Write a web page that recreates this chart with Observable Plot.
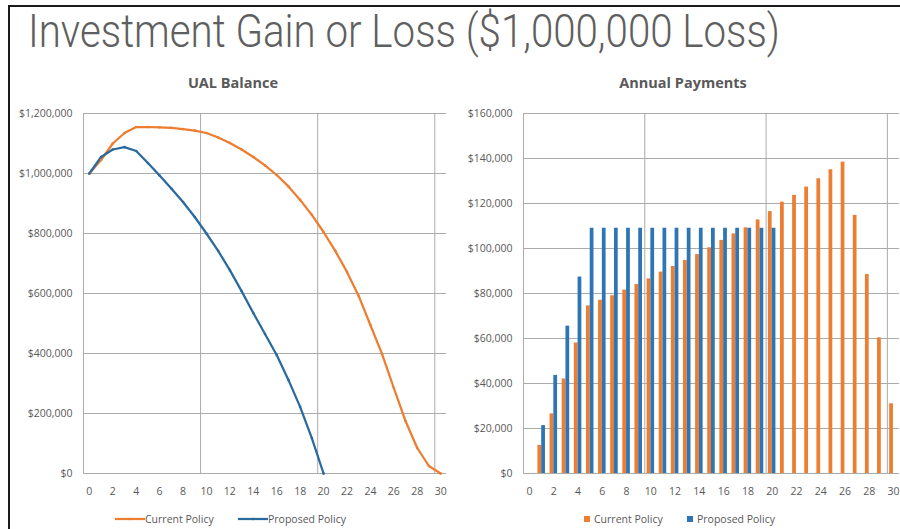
<!DOCTYPE html>
<html>
<head>
<meta charset="utf-8">
<script src="https://cdn.jsdelivr.net/npm/d3@7"></script>
<script src="https://cdn.jsdelivr.net/npm/@observablehq/plot@0.6"></script>
<style>
  body { margin: 0; background: #fff; }
  #page { position: relative; width: 900px; height: 529px; overflow: hidden; background: #fff; font-family: "Open Sans", Lato, sans-serif; }
  #frameTop { position: absolute; left: 8px; top: 5px; width: 892px; height: 2px; background: #1a1a1a; }
  #frameLeft { position: absolute; left: 8px; top: 5px; width: 2px; height: 524px; background: #1a1a1a; }
  #title { position: absolute; left: 28px; top: 8px; font-family: Roboto, "Liberation Sans Narrow", sans-serif; font-weight: 300; font-size: 46px; line-height: 1; color: #5f5f5f; white-space: nowrap; transform-origin: 0 0; }
  .sub { position: absolute; top: 75px; width: 300px; text-align: center; font-weight: bold; font-size: 14.5px; line-height: 16px; color: #595959; }
  .chart { position: absolute; top: 100px; width: 450px; height: 400px; }
  .legend { position: absolute; top: 512px; height: 14px; font-size: 10.5px; line-height: 14px; color: #595959; white-space: nowrap; }
  .legend .item { position: absolute; top: 0; display: flex; align-items: center; }
  .legend svg { display: block; }
</style>
</head>
<body>
<div id="page">
  <div id="frameTop"></div>
  <div id="frameLeft"></div>
  <div id="title">Investment Gain or Loss ($1,000,000 Loss)</div>
  <div class="sub" style="left:83px;">UAL Balance</div>
  <div class="sub" style="left:533px;">Annual Payments</div>
  <div class="chart" id="left" style="left:0px;"></div>
  <div class="chart" id="right" style="left:450px;"></div>
  <div class="legend" id="legLeft"></div>
  <div class="legend" id="legRight"></div>
</div>
<script>
// ---- Data ----
const seriesNames = ["Current Policy", "Proposed Policy"];
const balanceYearsCurrent = d3.range(0, 31);
const balanceCurrent = [1000000, 1045000, 1100000, 1135000, 1155000, 1155000, 1154000, 1152000, 1148000, 1143000,
  1135000, 1120000, 1102000, 1080000, 1055000, 1027000, 995000, 957000, 912000, 862000,
  805000, 742000, 672000, 592000, 495000, 398000, 285000, 175000, 85000, 25000, 0];
const balanceYearsProposed = d3.range(0, 21);
const balanceProposed = [1000000, 1055000, 1080000, 1088000, 1075000, 1035000, 993000, 950000, 905000, 855000,
  800000, 742000, 678000, 608000, 535000, 465000, 395000, 312000, 222000, 118000, 0];

const paymentYearsCurrent = d3.range(1, 31);
const paymentCurrent = [12500, 26500, 42000, 58000, 74500, 77000, 79000, 81500, 84000, 86500,
  89500, 92000, 94700, 97300, 100300, 103600, 106500, 109200, 112700, 116400,
  120600, 123600, 127300, 131000, 135000, 138400, 114700, 88400, 60300, 31000];
const paymentYearsProposed = d3.range(1, 21);
const paymentProposed = [21300, 43600, 65500, 87300, 109000, 109000, 109000, 109000, 109000, 109000,
  109000, 109000, 109000, 109000, 109000, 109000, 109000, 109000, 109000, 109000];

const xTickLabels = [0, 2, 4, 6, 8, 10, 12, 14, 16, 18, 20, 22, 24, 26, 28, 30];
const yTicksBalance = [0, 200000, 400000, 600000, 800000, 1000000, 1200000];
const yTicksPayment = [0, 20000, 40000, 60000, 80000, 100000, 120000, 140000, 160000];
const xGridLines = [-0.5, 9.5, 19.5, 29.5];

const orange = "#ED7D31";
const blueLine = "#2A6A9E";
const blueBar = "#2E75B6";
const gridColor = "#ababab";
const textColor = "#595959";

// ---- Tables ----
const lineTable = [
  ...balanceCurrent.map((v, i) => ({year: balanceYearsCurrent[i], value: v, policy: seriesNames[0]})),
  ...balanceProposed.map((v, i) => ({year: balanceYearsProposed[i], value: v, policy: seriesNames[1]}))
];
const barCurrent = paymentCurrent.map((v, i) => ({year: paymentYearsCurrent[i], value: v}));
const barProposed = paymentProposed.map((v, i) => ({year: paymentYearsProposed[i], value: v}));

const fmtDollar = d3.format("$,");
const common = {
  width: 450, height: 400, marginTop: 13, marginBottom: 27,
  style: {fontFamily: "'Open Sans', Lato, sans-serif", fontSize: "10.5px", color: textColor, background: "transparent", overflow: "visible"}
};

const leftChart = Plot.plot({
  ...common,
  marginLeft: 83, marginRight: 4,
  x: {domain: [-0.5, 30.5], ticks: xTickLabels, tickFormat: d => String(d), tickSize: 0, tickPadding: 14, label: null},
  y: {domain: [0, 1200000], ticks: yTicksBalance, tickFormat: fmtDollar, tickSize: 0, tickPadding: 11, label: null},
  color: {domain: seriesNames, range: [orange, blueLine]},
  marks: [
    Plot.gridY(yTicksBalance, {stroke: gridColor, strokeOpacity: 1}),
    Plot.gridX(xGridLines, {stroke: gridColor, strokeOpacity: 1}),
    Plot.line(lineTable, {x: "year", y: "value", z: "policy", stroke: "policy", strokeWidth: 2.25}),
    Plot.dot(lineTable, {x: "year", y: "value", fill: "policy", r: 1.3, stroke: "none"})
  ]
});
document.getElementById("left").appendChild(leftChart);

const rightChart = Plot.plot({
  ...common,
  marginLeft: 73, marginRight: 1,
  x: {domain: [-0.5, 30.5], ticks: xTickLabels, tickFormat: d => String(d), tickSize: 0, tickPadding: 14, label: null},
  y: {domain: [0, 160000], ticks: yTicksPayment, tickFormat: fmtDollar, tickSize: 0, tickPadding: 11, label: null},
  marks: [
    Plot.gridY(yTicksPayment, {stroke: gridColor, strokeOpacity: 1}),
    Plot.gridX(xGridLines, {stroke: gridColor, strokeOpacity: 1}),
    Plot.rect(barCurrent, {x1: d => d.year - 0.31, x2: d => d.year, y1: 0, y2: "value", fill: orange}),
    Plot.rect(barProposed, {x1: d => d.year, x2: d => d.year + 0.31, y1: 0, y2: "value", fill: blueBar})
  ]
});
document.getElementById("right").appendChild(rightChart);

// ---- Legends ----
function lineSwatch(color) {
  return `<svg width="30" height="10"><line x1="0" y1="5" x2="30" y2="5" stroke="${color}" stroke-width="2.25"/><circle cx="15" cy="5" r="1.3" fill="${color}"/></svg>`;
}
function boxSwatch(color) {
  return `<svg width="6" height="6"><rect width="6" height="6" fill="${color}"/></svg>`;
}
document.getElementById("legLeft").innerHTML =
  `<div class="item" style="left:115px">${lineSwatch(orange)}<span>${seriesNames[0]}</span></div>` +
  `<div class="item" style="left:238px">${lineSwatch(blueLine)}<span>${seriesNames[1]}</span></div>`;
document.getElementById("legRight").innerHTML =
  `<div class="item" style="left:584px">${boxSwatch(orange)}<span style="margin-left:4px">${seriesNames[0]}</span></div>` +
  `<div class="item" style="left:687px">${boxSwatch(blueBar)}<span style="margin-left:4px">${seriesNames[1]}</span></div>`;

// fit title width to reference (~752px)
const t = document.getElementById("title");
const w = t.getBoundingClientRect().width;
t.style.transform = `scaleX(${752 / w})`;
</script>
</body>
</html>
